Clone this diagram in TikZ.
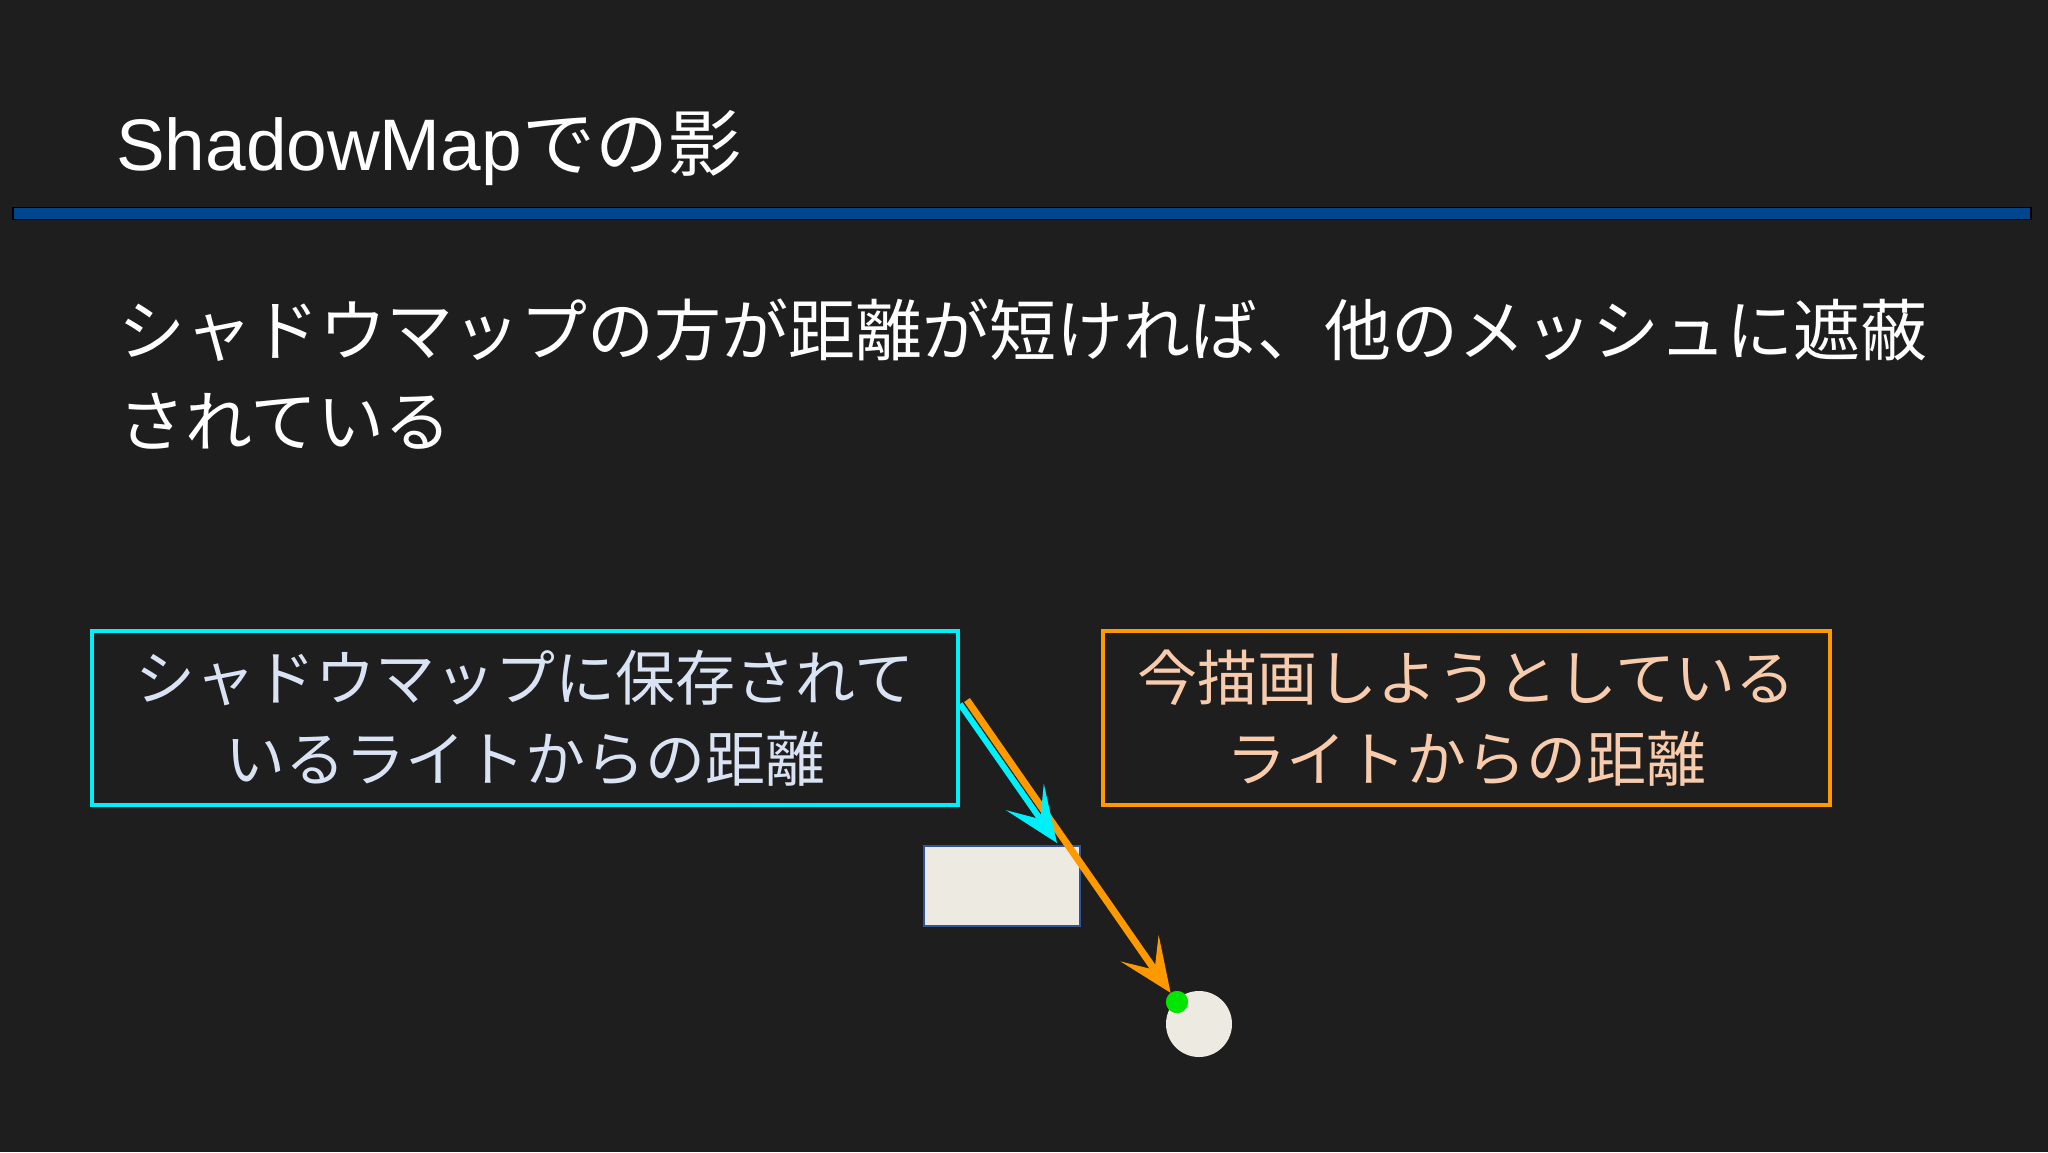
\documentclass[tikz,border=0pt]{standalone}
\usepackage{fontspec}
\setmainfont{Liberation Sans}
\newfontfamily\jp{Noto Sans CJK JP}
\usetikzlibrary{arrows.meta}
\definecolor{bg}{RGB}{30,30,30}
\definecolor{sepblue}{RGB}{0,70,140}
\definecolor{cyanC}{RGB}{0,240,250}
\definecolor{orangeC}{RGB}{255,153,0}
\definecolor{cyantext}{RGB}{218,227,243}
\definecolor{orangetext}{RGB}{248,203,173}
\definecolor{meshfill}{RGB}{237,234,226}
\definecolor{meshdraw}{RGB}{47,85,151}
\definecolor{greenC}{RGB}{0,230,0}
\tikzset{
  titletext/.style={text=white, inner sep=0, font=\fontsize{73}{88}\selectfont},
  bodytext/.style={text=white, inner sep=0, align=left, font=\jp\fontsize{67}{91}\selectfont},
  labelbox/.style={line width=4pt, inner sep=0, outer sep=0, align=center, font=\jp\fontsize{60}{81}\selectfont},
  storedbox/.style={labelbox, draw=cyanC, text=cyantext, minimum width=866pt, minimum height=174pt},
  drawbox/.style={labelbox, draw=orangeC, text=orangetext, minimum width=727pt, minimum height=174pt},
  meshbox/.style={draw=meshdraw, line width=2pt, fill=meshfill, minimum width=156pt, minimum height=80pt, inner sep=0},
  receiver/.style={circle, fill=meshfill, minimum size=66pt, inner sep=0},
  hitdot/.style={circle, fill=greenC, minimum size=22pt, inner sep=0},
  cyanarrow/.style={draw=cyanC, line width=6pt, -{Stealth[length=56pt, width=46pt, inset=27pt]}},
  orangearrow/.style={draw=orangeC, line width=7pt, -{Stealth[length=54pt, width=46pt, inset=26pt]}}
}
\begin{document}
\begin{tikzpicture}[x=1pt,y=-1pt]
\useasboundingbox (0,0) rectangle (2048,1152);
\fill[bg] (0,0) rectangle (2048,1152);
\node[titletext, anchor=base west] (title) at (116,170) {ShadowMap{\jp での影}};
\draw[black, line width=1.5pt, fill=sepblue] (13,207.5) rectangle (2031,219.5);
\node[bodytext, anchor=base west] (body) at (118,446) {シャドウマップの方が距離が短ければ、他のメッシュに遮蔽\\されている};
\node[storedbox] (stored) at (525,718) {シャドウマップに保存されて\\いるライトからの距離};
\node[drawbox] (current) at (1466.5,718) {今描画しようとしている\\ライトからの距離};
\node[meshbox] (mesh) at (1002,886) {};
\node[receiver] (recv) at (1199,1024) {};
\node[hitdot] (dot) at (1177,1002) {};
\coordinate (ostart) at (967,700);
\coordinate (cstart) at (960,704);
\coordinate (cend) at (1057,843);
\draw[orangearrow] (ostart) -- (dot);
\draw[cyanarrow] (cstart) -- (cend);
\node[hitdot] (dottop) at (dot) {};
\end{tikzpicture}
\end{document}
